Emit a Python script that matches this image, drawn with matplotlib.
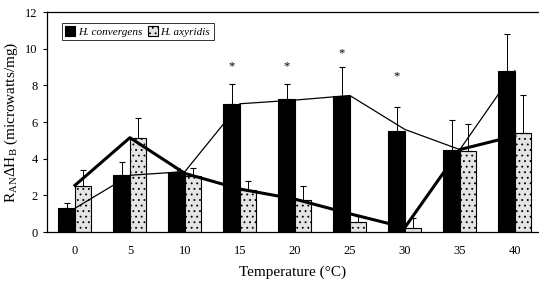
import numpy as np
import matplotlib.pyplot as plt

plt.rcParams['font.family'] = ['Liberation Serif', 'DejaVu Serif']
plt.rcParams['mathtext.fontset'] = 'custom'
plt.rcParams['mathtext.rm'] = 'Liberation Serif'
plt.rcParams['mathtext.it'] = 'Liberation Serif:italic'
plt.rcParams['hatch.color'] = '#9a9a9a'
plt.rcParams['hatch.linewidth'] = 0.6

# data
temps = ['0', '5', '10', '15', '20', '25', '30', '35', '40']
conv = [1.3, 3.1, 3.3, 7.0, 7.25, 7.45, 5.5, 4.5, 8.8]
conv_top = [1.6, 3.8, 3.5, 8.1, 8.1, 9.0, 6.8, 6.1, 10.8]
axy = [2.5, 5.15, 3.05, 2.3, 1.75, 0.55, 0.25, 4.45, 5.4]
axy_top = [3.4, 6.2, 3.5, 2.8, 2.5, 0.9, 0.75, 5.9, 7.5]
# lines drawn through the means
conv_line = [1.3, 3.1, 3.3, 7.0, 7.2, 7.45, 5.6, 4.5, 8.8]
axy_line = [2.55, 5.15, 3.2, 2.35, 1.8, 1.0, 0.25, 4.5, 5.25]
# significance stars
star_idx = [3, 4, 5, 6]
star_y = [9.05, 9.05, 9.75, 8.5]

x = np.arange(len(temps))
w = 0.3
conv_err = np.array(conv_top) - np.array(conv)
axy_err = np.array(axy_top) - np.array(axy)

fig = plt.figure(figsize=(5.39, 2.81), dpi=100)
ax = fig.add_axes([0.087, 0.174, 0.913, 0.783])

ax.bar(x - w/2, conv, w, color='black', edgecolor='black', linewidth=0.8,
       label='H. convergens', zorder=2)
ax.bar(x + w/2, axy, w, color='#e4e4e4', edgecolor='black', linewidth=0.8,
       hatch='...', label='H. axyridis', zorder=2)

ax.errorbar(x - w/2, conv, yerr=[np.zeros(len(x)), conv_err], fmt='none',
            ecolor='black', elinewidth=0.7, capsize=2, capthick=0.8, zorder=3)
ax.errorbar(x + w/2, axy, yerr=[np.zeros(len(x)), axy_err], fmt='none',
            ecolor='black', elinewidth=0.7, capsize=2, capthick=0.8, zorder=3)

ax.plot(x, conv_line, color='black', linewidth=0.9, zorder=4)
ax.plot(x, axy_line, color='black', linewidth=2.2, zorder=4)

for i, yy in zip(star_idx, star_y):
    ax.text(x[i] - w/2, yy, '*', ha='center', va='center', fontsize=9)

ax.set_xlim(-0.51, 8.44)
ax.set_ylim(0, 12)
ax.set_yticks(np.arange(0, 13, 2))
ax.set_xticks(x)
ax.set_xticklabels(temps)
ax.tick_params(axis='x', length=0, pad=9, labelsize=9)
ax.tick_params(axis='y', length=3, direction='out', labelsize=9)
ax.spines['right'].set_visible(False)
for s in ['left', 'bottom', 'top']:
    ax.spines[s].set_linewidth(0.9)

ax.set_xlabel('Temperature (°C)', fontsize=11)
ax.xaxis.set_label_coords(0.5, -0.15)
ax.set_ylabel(r'R$_{\mathrm{AN}}\Delta$H$_{\mathrm{B}}$ (microwatts/mg)', fontsize=11)

leg = ax.legend(loc='upper left', bbox_to_anchor=(0.03, 0.95), ncol=2,
                prop={'style': 'italic', 'size': 8},
                frameon=True, fancybox=False, edgecolor='black',
                handlelength=0.9, handleheight=0.9, handletextpad=0.25,
                columnspacing=0.5, borderpad=0.3, borderaxespad=0)
leg.get_frame().set_linewidth(0.7)

fig.savefig('out.png', dpi=100)
